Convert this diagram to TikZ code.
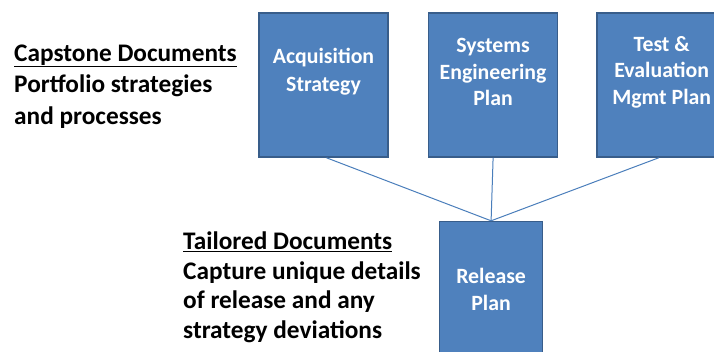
\documentclass[tikz,border=0pt]{standalone}
\usepackage{fontspec}
\setmainfont{Carlito}
\usetikzlibrary{positioning}
\usepackage{xcolor}
\definecolor{cBox}{HTML}{4F81BD}
\definecolor{cBoxEdge}{HTML}{385D8A}
\definecolor{cBoxText}{HTML}{FFFFFF}
\definecolor{cLine}{HTML}{4A7EBB}
\definecolor{cNote}{HTML}{000000}
\tikzset{
  docbox/.style = {
    rectangle,
    fill=cBox,
    draw=cBoxEdge,
    line width=1.6pt,
    minimum width=129pt,
    minimum height=144pt,
    inner sep=0pt
  },
  boxtext/.style = {
    font=\bfseries\fontsize{21.8}{26.5}\selectfont,
    text=cBoxText,
    align=center,
    inner sep=0pt
  },
  note/.style = {
    font=\bfseries\fontsize{25.3}{29.5}\selectfont,
    text=cNote,
    align=left,
    anchor=north west,
    inner sep=0pt
  },
  line/.style = {
    draw,
    color=cLine,
    line width=1pt
  },
}
\begin{document}
\begin{tikzpicture}[x=1pt, y=-1pt, node distance=63pt and 39pt]
    \useasboundingbox (0,0) rectangle (714,352);
    \node [docbox] (acq) at (323.5,85) {};
    \node [docbox, right=of acq] (sep) {};
    \node [docbox, right=38pt of sep] (temp) {};
    \node [docbox, minimum width=103pt, below=of sep, xshift=-2pt] (rel) {};
    \node [boxtext] (acq-text) at ([yshift=13pt]acq.center) {Acquisition\\[1.5pt]Strategy};
    \node [boxtext] (sep-text) at ([yshift=13pt]sep.center) {Systems\\Engineering\\Plan};
    \node [boxtext] (temp-text) at ([yshift=13pt]temp.center) {Test \&\\Evaluation\\Mgmt Plan};
    \node [boxtext] (rel-text) at ([yshift=4pt]rel.center) {Release\\Plan};
    \node [note, font=\bfseries\fontsize{25.3}{31.5}\selectfont] (capstone) at (14,44.5)
      {\underline{Capstone Documents}\\Portfolio strategies\\and processes};
    \node [note] (tailored) at (183,232) {\underline{Tailored Documents}\\Capture unique details\\of release and any\\strategy deviations};
    \path [line] ([xshift=3pt]acq.south) -- (rel.north);
    \path [line] (sep.south) -- (rel.north);
    \path [line] ([xshift=-3pt]temp.south) -- (rel.north);
  \end{tikzpicture}
\end{document}
